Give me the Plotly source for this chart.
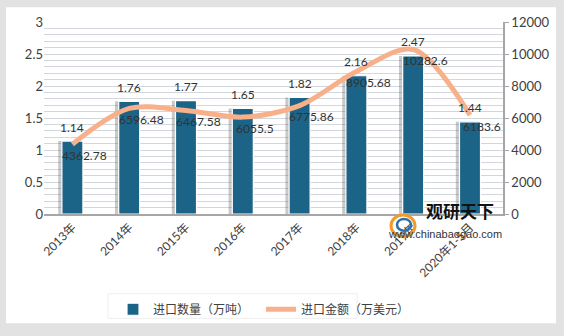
import plotly.graph_objects as go

categories = ["2013年", "2014年", "2015年", "2016年", "2017年", "2018年", "2019年", "2020年1-5月"]
qty = [1.14, 1.76, 1.77, 1.65, 1.82, 2.16, 2.47, 1.44]
amount = [4362.78, 6596.48, 6467.58, 6055.5, 6775.86, 8905.68, 10282.6, 6183.6]
qty_labels = ["1.14", "1.76", "1.77", "1.65", "1.82", "2.16", "2.47", "1.44"]
amount_labels = ["4362.78", "6596.48", "6467.58", "6055.5", "6775.86", "8905.68", "10282.6", "6183.6"]

BAR = "#1B6387"
LINE = "#F8B08A"
FONT = "Lato, 'Noto Sans CJK SC', sans-serif"
LBL = dict(size=12, color="#333333", family=FONT)

fig = go.Figure()
# shadow
fig.add_trace(go.Bar(x=categories, y=qty, width=0.37, offset=-0.25,
                     marker=dict(color="rgba(60,60,60,0.28)", line=dict(width=0)),
                     showlegend=False, hoverinfo="skip"))
fig.add_trace(go.Bar(x=categories, y=qty, name="进口数量（万吨）", width=0.37, offset=-0.185,
                     marker=dict(color=BAR, line=dict(color="white", width=1.2)), hoverinfo="y"))
fig.add_trace(go.Scatter(x=categories, y=amount, name="进口金额（万美元）", yaxis="y2",
                         mode="lines", line=dict(color=LINE, width=5, shape="spline", smoothing=0.9)))

for c, v, t in zip(categories, qty, qty_labels):
    fig.add_annotation(x=c, y=v, xref="x", yref="y", text=t, showarrow=False,
                       yshift=14, font=LBL)
for c, v, t in zip(categories, amount, amount_labels):
    fig.add_annotation(x=c, y=v, xref="x", yref="y2", text=t, showarrow=False,
                       yshift=-11, xshift=12, font=LBL)

# outer frame
fig.add_shape(type="rect", xref="paper", yref="paper", x0=-38/459, x1=(556-44)/459,
              y0=-(328-217)/195, y1=(217-7)/195, fillcolor="white", line=dict(width=0), layer="below")
# legend box
fig.add_shape(type="rect", xref="paper", yref="paper", x0=(108-44)/459, x1=(357-44)/459,
              y0=-(323-217)/195, y1=-(298-217)/195, fillcolor="white",
              line=dict(color="#EEEEEE", width=1), layer="below")

# watermark
fig.add_shape(type="circle", xref="paper", yref="paper", x0=(391-44)/459, x1=(415-44)/459,
              y0=-(240-217)/195, y1=-(218-217)/195, line=dict(color="#F29A2E", width=3))
fig.add_shape(type="circle", xref="paper", yref="paper", x0=(397-44)/459, x1=(411-44)/459,
              y0=-(234-217)/195, y1=-(222-217)/195, line=dict(color="#2E6FA8", width=2.5))
fig.add_annotation(xref="paper", yref="paper", x=(424-44)/459, y=-(228-217)/195, text="<b>观研天下</b>",
                   showarrow=False, xanchor="left", font=dict(size=17, color="#111111", family="'Noto Sans CJK SC'"))
fig.add_annotation(xref="paper", yref="paper", x=(386-44)/459, y=-(245-217)/195, text="www.chinabaogao.com",
                   showarrow=False, xanchor="left", font=dict(size=11, color="#333333", family="'Liberation Sans'"))

fig.update_layout(
    width=564, height=336,
    margin=dict(l=44, r=61, t=22, b=119),
    paper_bgcolor="#E2E2E2",
    plot_bgcolor="#ECF2F8",
    barmode="overlay",
    font=dict(family=FONT, size=12, color="#404040"),
    xaxis=dict(tickangle=-45, showline=True, linecolor="#A6A6A6", linewidth=1.5,
               tickfont=dict(size=12, color="#404040"), showgrid=False, ticks=""),
    yaxis=dict(range=[0, 3], dtick=0.5, showline=False, gridcolor="#D2D7DD", gridwidth=1,
               minor=dict(dtick=0.1, showgrid=True, gridcolor="#D2D7DD", gridwidth=1),
               tickfont=dict(size=13, color="#404040"), zeroline=False, ticks=""),
    yaxis2=dict(range=[0, 12000], dtick=2000, tickformat="d", overlaying="y", side="right", showgrid=False,
                showline=True, linecolor="#A6A6A6", linewidth=1.5, ticks="outside", ticklen=4,
                tickcolor="#A6A6A6", tickfont=dict(size=13, color="#404040"), zeroline=False),
    legend=dict(orientation="h", x=(113-44)/459, y=-(299-217)/195, xanchor="left", yanchor="top",
                bgcolor="rgba(0,0,0,0)", font=dict(size=12, color="#404040"), traceorder="normal",
                entrywidth=103),
    showlegend=True,
)

fig.write_html("out.html")
